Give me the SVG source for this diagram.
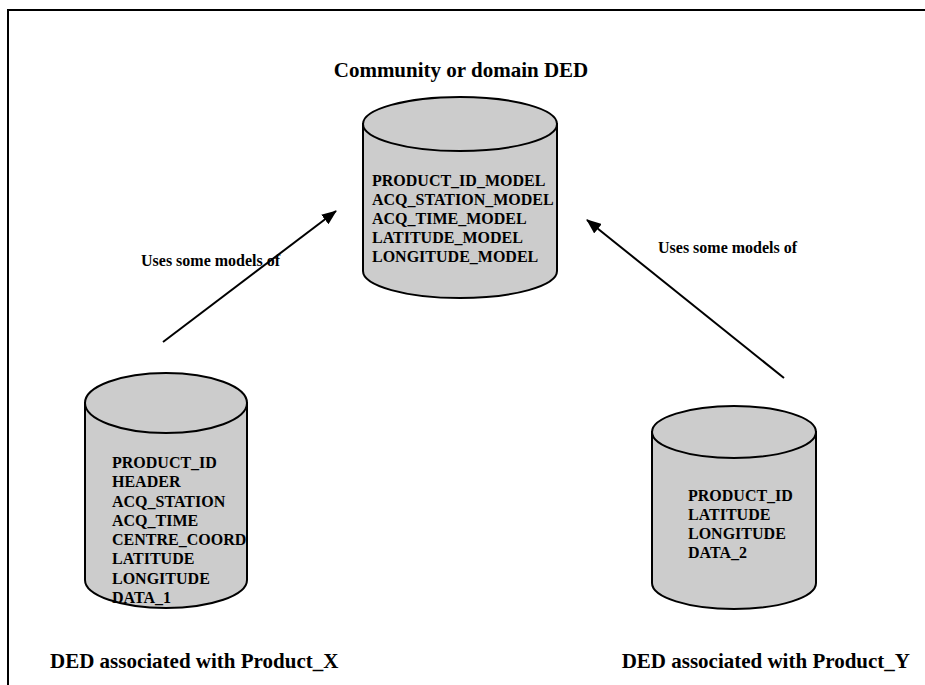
<svg xmlns="http://www.w3.org/2000/svg" width="925" height="685" viewBox="0 0 925 685">
<style>
.cyl{fill:#cccccc;stroke:#000;stroke-width:2}
.t{font-family:"Liberation Serif","Times New Roman",serif;font-weight:bold;fill:#000}
.f16{font-size:16px}
.f21{font-size:21px}
.conn{stroke:#000;stroke-width:2;fill:none}
</style>
<defs>
<marker id="ah" markerUnits="userSpaceOnUse" markerWidth="16" markerHeight="12" refX="14" refY="6" orient="auto">
<path d="M0,0 L15,6 L0,12 Z" fill="#000"/>
</marker>
</defs>
<rect width="925" height="685" fill="#fff"/>
<path d="M8,685 L8,10 L925,10" fill="none" stroke="#000" stroke-width="2"/>

<text class="t f21" x="461" y="77" text-anchor="middle">Community or domain DED</text>

<g id="community">
<path class="cyl" d="M363,124 L363,271 A97,27 0 0 0 557,271 L557,124 Z"/>
<ellipse class="cyl" cx="460" cy="124" rx="97" ry="27"/>
<text class="t f16" x="372" y="186">PRODUCT_ID_MODEL</text>
<text class="t f16" x="372" y="205">ACQ_STATION_MODEL</text>
<text class="t f16" x="372" y="224">ACQ_TIME_MODEL</text>
<text class="t f16" x="372" y="243">LATITUDE_MODEL</text>
<text class="t f16" x="372" y="262">LONGITUDE_MODEL</text>
</g>

<g id="productX">
<path class="cyl" d="M85,403 L85,580 A81,28 0 0 0 247,580 L247,403 Z"/>
<ellipse class="cyl" cx="166" cy="403" rx="81" ry="30"/>
<text class="t f16" x="112" y="468">PRODUCT_ID</text>
<text class="t f16" x="112" y="487">HEADER</text>
<text class="t f16" x="112" y="507">ACQ_STATION</text>
<text class="t f16" x="112" y="526">ACQ_TIME</text>
<text class="t f16" x="112" y="545">CENTRE_COORD</text>
<text class="t f16" x="112" y="564">LATITUDE</text>
<text class="t f16" x="112" y="584">LONGITUDE</text>
<text class="t f16" x="112" y="603">DATA_1</text>
<text class="t f21" x="50" y="668">DED associated with Product_X</text>
</g>

<g id="productY">
<path class="cyl" d="M652,432 L652,583 A82,26 0 0 0 816,583 L816,432 Z"/>
<ellipse class="cyl" cx="734" cy="432" rx="82" ry="26"/>
<text class="t f16" x="688" y="501">PRODUCT_ID</text>
<text class="t f16" x="688" y="520">LATITUDE</text>
<text class="t f16" x="688" y="539">LONGITUDE</text>
<text class="t f16" x="688" y="558">DATA_2</text>
<text class="t f21" x="910" y="668" text-anchor="end">DED associated with Product_Y</text>
</g>

<g id="connectors">
<line class="conn" x1="163" y1="342" x2="336" y2="211" marker-end="url(#ah)"/>
<text class="t f16" x="141" y="266">Uses some models of</text>
<line class="conn" x1="784" y1="378" x2="587" y2="220" marker-end="url(#ah)"/>
<text class="t f16" x="658" y="253">Uses some models of</text>
</g>
</svg>
